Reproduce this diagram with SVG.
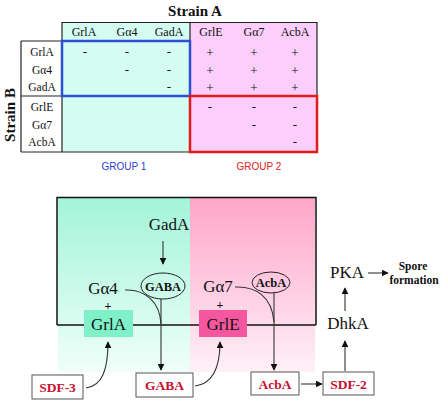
<svg xmlns="http://www.w3.org/2000/svg" width="444" height="400" viewBox="0 0 444 400">
<defs>
<linearGradient id="gc" x1="0" y1="0" x2="0" y2="1"><stop offset="0" stop-color="#a3f4d8"/><stop offset="1" stop-color="#effff9"/></linearGradient>
<linearGradient id="gp" x1="0" y1="0" x2="0" y2="1"><stop offset="0" stop-color="#ffa6c9"/><stop offset="1" stop-color="#fff0f7"/></linearGradient>
<marker id="ah" viewBox="0 0 10 10" refX="9" refY="5" markerWidth="7" markerHeight="7" markerUnits="userSpaceOnUse" orient="auto"><path d="M0,0 L10,5 L0,10 z" fill="#111"/></marker>
<style>
.s{font-family:'Liberation Serif','DejaVu Serif',serif;fill:#111}
.h{font-size:12px;text-anchor:middle}
.r{font-size:11.5px;text-anchor:middle}
.v{font-size:13px;text-anchor:middle}
.n{font-size:17px;text-anchor:middle}
.b{font-weight:bold}
.red{fill:#c8102e;font-weight:bold;font-size:13.5px;text-anchor:middle}
.box{fill:#fff;stroke:#555;stroke-width:1}
.ln{fill:none;stroke:#333;stroke-width:1.1}
.grp{font-family:'Liberation Sans','DejaVu Sans',sans-serif;font-size:10px;text-anchor:middle}
</style>
</defs>

<g id="table">
<rect x="62" y="22" width="128" height="130" fill="#d4fcf0"/>
<rect x="190" y="22" width="127" height="130" fill="#fccefc"/>
<rect x="21" y="41" width="41" height="111" fill="#fff"/>
<path d="M62,22.5 H317 M317,22 V152 M21,152 H317 M21,41 V152 M21,41 H62 M62,22 V152 M21,96 H62 M190,22 V41" stroke="#222" stroke-width="1.2" fill="none"/>
<text class="s b" x="195" y="16" font-size="15" text-anchor="middle">Strain A</text>
<text class="s b" transform="translate(15,115) rotate(-90)" font-size="15" text-anchor="middle">Strain B</text>
<g class="s h">
<text x="84" y="36">GrlA</text><text x="127" y="36">Gα4</text><text x="169" y="36">GadA</text>
<text x="211" y="36">GrlE</text><text x="254" y="36">Gα7</text><text x="295" y="36">AcbA</text>
</g>
<g class="s r">
<text x="42" y="56">GrlA</text><text x="42" y="74">Gα4</text><text x="42" y="91">GadA</text>
<text x="42" y="111">GrlE</text><text x="42" y="129">Gα7</text><text x="42" y="146">AcbA</text>
</g>
<g class="s v">
<text x="85" y="56">-</text><text x="127" y="56">-</text><text x="169" y="56">-</text>
<text x="127" y="74">-</text><text x="169" y="74">-</text>
<text x="169" y="91">-</text>
<text x="210" y="57">+</text><text x="254" y="57">+</text><text x="295" y="57">+</text>
<text x="210" y="75">+</text><text x="254" y="75">+</text><text x="295" y="75">+</text>
<text x="210" y="92">+</text><text x="254" y="92">+</text><text x="295" y="92">+</text>
<text x="210" y="111">-</text><text x="254" y="111">-</text><text x="295" y="111">-</text>
<text x="254" y="129">-</text><text x="295" y="129">-</text>
<text x="295" y="146">-</text>
</g>
<rect x="62" y="41" width="128" height="55" fill="none" stroke="#2d4fd6" stroke-width="2.5"/>
<rect x="190" y="96" width="127" height="56" fill="none" stroke="#e31a1a" stroke-width="2.5"/>
<text class="grp" x="124" y="170" fill="#3040d0">GROUP 1</text>
<text class="grp" x="259" y="170" fill="#e02020">GROUP 2</text>
</g>

<g id="background">
<rect x="58" y="198" width="132" height="174" fill="url(#gc)"/>
<rect x="190" y="198" width="125" height="174" fill="url(#gp)"/>
<path d="M57,325 V197.5 H316 V325 M57,325 H316" fill="none" stroke="#111" stroke-width="1.5"/>
</g>

<g id="connectors">
<path class="ln" d="M163,241 V264" marker-end="url(#ah)"/>
<path class="ln" d="M161,299 V370" marker-end="url(#ah)"/>
<path class="ln" d="M125,290 C145,289 160,302 161,324"/>
<path class="ln" d="M274,293 V370" marker-end="url(#ah)"/>
<path class="ln" d="M235,287 C255,286 272,296 274,322"/>
<path class="ln" d="M86,388 C102,386 108,370 108,342" marker-end="url(#ah)"/>
<path class="ln" d="M195,386 C211,384 220,370 220,342" marker-end="url(#ah)"/>
<path class="ln" d="M301,384 H322" marker-end="url(#ah)"/>
<path class="ln" d="M345,371 V341" marker-end="url(#ah)"/>
<path class="ln" d="M345,311 V288" marker-end="url(#ah)"/>
<path class="ln" d="M368,273 H388" marker-end="url(#ah)"/>
</g>

<g id="GadA"><text class="s n" x="169" y="230">GadA</text></g>
<g id="GABA-oval"><ellipse cx="163" cy="286" rx="22" ry="13" fill="none" stroke="#222" stroke-width="1"/><text class="s b" x="163" y="290.5" font-size="12.5" text-anchor="middle">GABA</text></g>
<g id="Ga4"><text class="s n" x="103" y="294">Gα4</text><text class="s b" x="108" y="310" font-size="12" text-anchor="middle">+</text></g>
<g id="GrlA"><rect x="84" y="310" width="49" height="27" fill="#80f0c8"/><text class="s n" x="108.5" y="329.5">GrlA</text></g>
<g id="Ga7"><text class="s n" x="218" y="292">Gα7</text><text class="s b" x="220" y="309" font-size="12" text-anchor="middle">+</text></g>
<g id="AcbA-oval"><ellipse cx="271" cy="282.5" rx="19" ry="10.5" fill="none" stroke="#222" stroke-width="1"/><text class="s b" x="271" y="287" font-size="12.5" text-anchor="middle">AcbA</text></g>
<g id="GrlE"><rect x="199" y="310" width="48" height="27" fill="#f5579f"/><text class="s n" x="223" y="329.5">GrlE</text></g>
<g id="SDF-3"><rect class="box" x="32" y="375" width="51" height="24"/><text class="s red" x="57.5" y="392">SDF-3</text></g>
<g id="GABA"><rect class="box" x="136" y="373" width="57" height="24"/><text class="s red" x="164.5" y="390">GABA</text></g>
<g id="AcbA"><rect class="box" x="251" y="372" width="48" height="23"/><text class="s red" x="275" y="389">AcbA</text></g>
<g id="SDF-2"><rect class="box" x="323" y="372" width="51" height="23"/><text class="s red" x="348.5" y="389">SDF-2</text></g>
<g id="DhkA"><text class="s n" x="348" y="329">DhkA</text></g>
<g id="PKA"><text class="s n" x="347" y="278">PKA</text></g>
<g id="Spore"><text class="s b" x="413" y="270" font-size="11.5" text-anchor="middle">Spore</text><text class="s b" x="414" y="284" font-size="11.5" text-anchor="middle">formation</text></g>
</svg>
